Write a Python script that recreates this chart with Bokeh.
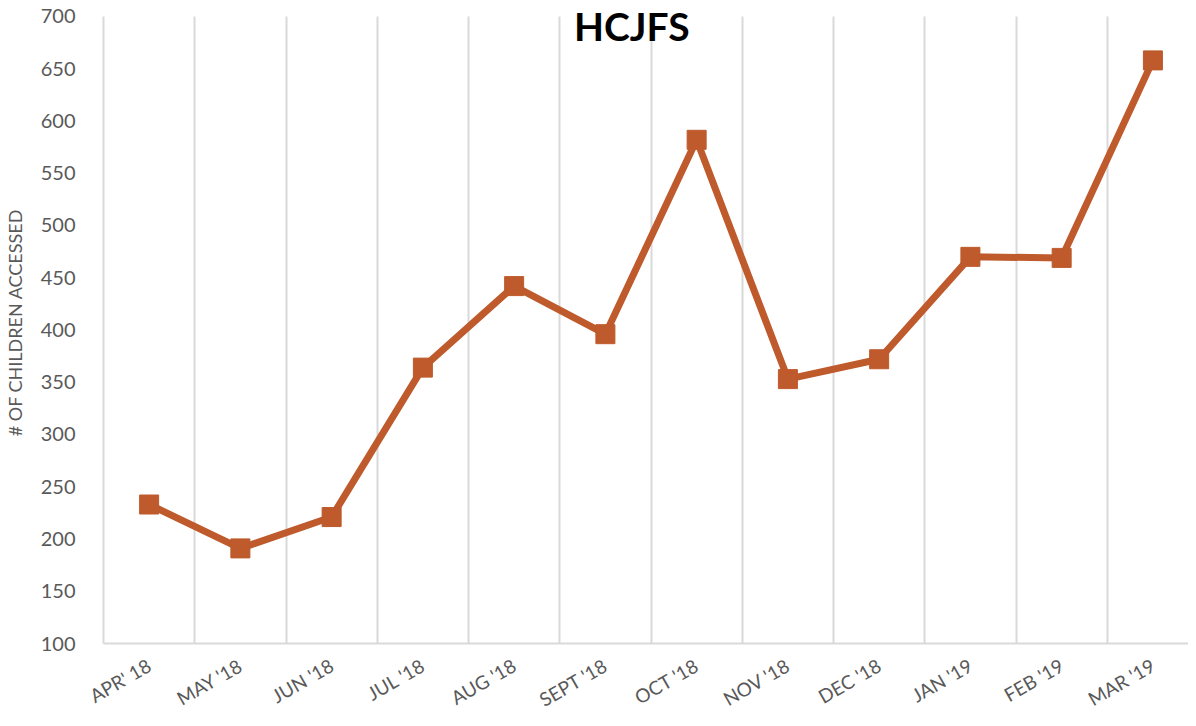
from bokeh.plotting import figure
from bokeh.models import Range1d, FixedTicker, Label, ColumnDataSource
from bokeh.embed import file_html
from bokeh.resources import INLINE
import math

months = ["APR' 18", "MAY '18", "JUN '18", "JUL '18", "AUG '18", "SEPT '18",
          "OCT '18", "NOV '18", "DEC '18", "JAN '19", "FEB '19", "MAR '19"]
children = [233, 191, 221, 364, 442, 396, 582, 353, 372, 470, 469, 658]
y_ticks = [100, 150, 200, 250, 300, 350, 400, 450, 500, 550, 600, 650, 700]
title_text = "HCJFS"
y_title = "# OF CHILDREN ACCESSED"

xs = [i + 0.5 for i in range(len(months))]
src = ColumnDataSource(dict(x=xs, y=children))

p = figure(width=1188, height=724, output_backend="svg", toolbar_location=None,
           x_range=Range1d(0, 11.89), y_range=Range1d(100, 714.35),
           min_border_left=98, min_border_right=0, min_border_top=1,
           min_border_bottom=81)
p.outline_line_color = None
p.background_fill_color = "white"

color = "#BE5A2C"
p.line("x", "y", source=src, line_color=color, line_width=7, line_join="round")
p.scatter("x", "y", source=src, marker="square", size=19, fill_color=color,
          line_color=color)

# grids
p.ygrid.grid_line_color = None
p.xgrid.ticker = FixedTicker(ticks=list(range(0, 13)))
p.xgrid.grid_line_color = "#D9D9D9"
p.xgrid.grid_line_width = 2
p.xgrid.cross_bounds = (100, 700)

# x axis
p.xaxis.ticker = FixedTicker(ticks=xs)
p.xaxis.major_label_overrides = {x: m for x, m in zip(xs, months)}
p.xaxis.major_label_orientation = math.pi / 6
p.xaxis.major_tick_line_color = None
p.xaxis.minor_tick_line_color = None
p.xaxis.axis_line_color = "#D9D9D9"
p.xaxis.axis_line_width = 2
p.xaxis.major_label_text_font = "Lato"
p.xaxis.major_label_text_font_size = "19px"
p.xaxis.major_label_text_color = "#595959"
p.xaxis.major_label_standoff = 14

# y axis
p.yaxis.ticker = FixedTicker(ticks=y_ticks)
p.yaxis.bounds = (100, 700)
p.yaxis.major_tick_line_color = None
p.yaxis.minor_tick_line_color = None
p.yaxis.axis_line_color = "#D9D9D9"
p.yaxis.axis_line_width = 2
p.yaxis.major_label_text_font = "Lato"
p.yaxis.major_label_text_font_size = "20px"
p.yaxis.major_label_text_color = "#595959"
p.yaxis.major_label_standoff = 22
p.yaxis.axis_label = y_title
p.yaxis.axis_label_text_font = "Lato"
p.yaxis.axis_label_text_font_size = "18px"
p.yaxis.axis_label_text_font_style = "normal"
p.yaxis.axis_label_text_color = "#595959"
p.yaxis.axis_label_standoff = 12

p.add_layout(Label(x=5.79, y=691, text=title_text, text_align="center",
                   text_baseline="alphabetic", text_font="Lato",
                   text_font_size="39px", text_font_style="bold",
                   text_color="black"))

open("out.html", "w").write(file_html(p, INLINE))
